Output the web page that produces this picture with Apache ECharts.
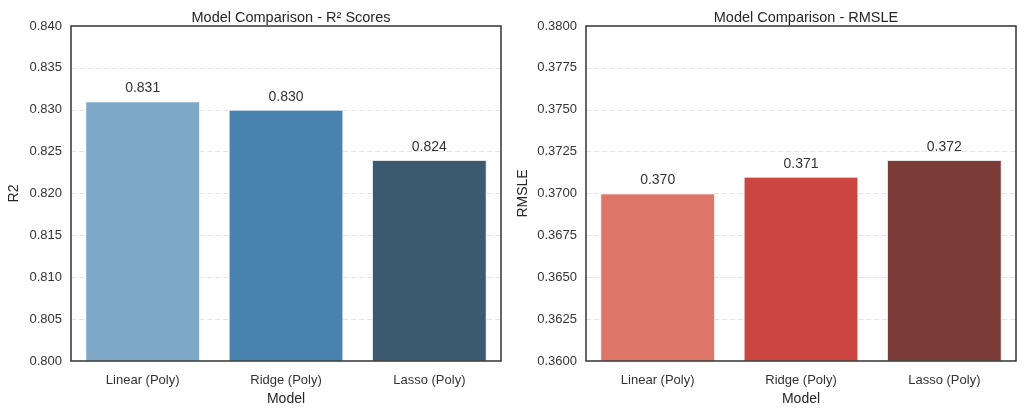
<!DOCTYPE html>
<html><head><meta charset="utf-8">
<script src="https://cdn.jsdelivr.net/npm/echarts@6/dist/echarts.min.js"></script>
<style>html,body{margin:0;padding:0;background:#fff}#c{width:1024px;height:412px}</style>
</head><body><div id="c"></div>
<script>
const categories = ['Linear (Poly)', 'Ridge (Poly)', 'Lasso (Poly)'];
const r2Values = [0.831, 0.830, 0.824];
const rmsleValues = [0.370, 0.371, 0.372];
const r2Colors = ['#7ea8c8', '#4883b0', '#3b5a70'];
const rmsleColors = ['#de7667', '#cc4540', '#7b3b37'];

const font = 'Liberation Sans, Arial, sans-serif';
const chart = echarts.init(document.getElementById('c'));

function yAxis(idx, min, max, interval, dec, name) {
  return {
    gridIndex: idx, type: 'value', min, max, interval,
    name, nameLocation: 'middle', nameGap: idx === 0 ? 50 : 56,
    nameTextStyle: {fontFamily: font, fontSize: 14, color: '#262626'},
    axisLine: {show: false}, axisTick: {show: false},
    axisLabel: {fontFamily: font, fontSize: 13, color: '#333', margin: 9,
      formatter: v => v.toFixed(dec)},
    splitLine: {show: true, showMinLine: false, showMaxLine: false,
      lineStyle: {color: '#e3e3e3', type: [5, 3], width: 1}}
  };
}
function xAxis(idx) {
  return {
    gridIndex: idx, type: 'category', data: categories,
    name: 'Model', nameLocation: 'middle', nameGap: 29,
    nameTextStyle: {fontFamily: font, fontSize: 14, color: '#262626'},
    axisLine: {show: false}, axisTick: {show: false},
    axisLabel: {fontFamily: font, fontSize: 13, color: '#333', margin: 13}
  };
}
function series(idx, vals, colors) {
  return {
    type: 'bar', xAxisIndex: idx, yAxisIndex: idx, barCategoryGap: '20%',
    data: vals.map((v, i) => ({value: v, itemStyle: {color: colors[i]}})),
    itemStyle: {borderColor: 'rgba(255,255,255,0.7)', borderWidth: 1},
    label: {show: true, position: 'top', distance: 6, fontFamily: font, fontSize: 14,
      color: '#333', formatter: p => p.value.toFixed(3)},
    silent: true, animation: false
  };
}
chart.setOption({
  animation: false,
  title: [
    {text: 'Model Comparison - R² Scores', left: 286, textAlign: 'center', top: 5,
      textStyle: {fontFamily: font, fontSize: 14.5, fontWeight: 'normal', color: '#262626'}},
    {text: 'Model Comparison - RMSLE', left: 801, textAlign: 'center', top: 5,
      textStyle: {fontFamily: font, fontSize: 14.5, fontWeight: 'normal', color: '#262626'}}
  ],
  grid: [
    {left: 71, right: 523, top: 26, bottom: 51, show: true, borderColor: '#333', borderWidth: 1.5, backgroundColor: 'transparent', z: 3},
    {left: 586, right: 8, top: 26, bottom: 51, show: true, borderColor: '#333', borderWidth: 1.5, backgroundColor: 'transparent', z: 3}
  ],
  xAxis: [xAxis(0), xAxis(1)],
  yAxis: [yAxis(0, 0.800, 0.840, 0.005, 3, 'R2'), yAxis(1, 0.3600, 0.3800, 0.0025, 4, 'RMSLE')],
  series: [series(0, r2Values, r2Colors), series(1, rmsleValues, rmsleColors)]
});
</script></body></html>
